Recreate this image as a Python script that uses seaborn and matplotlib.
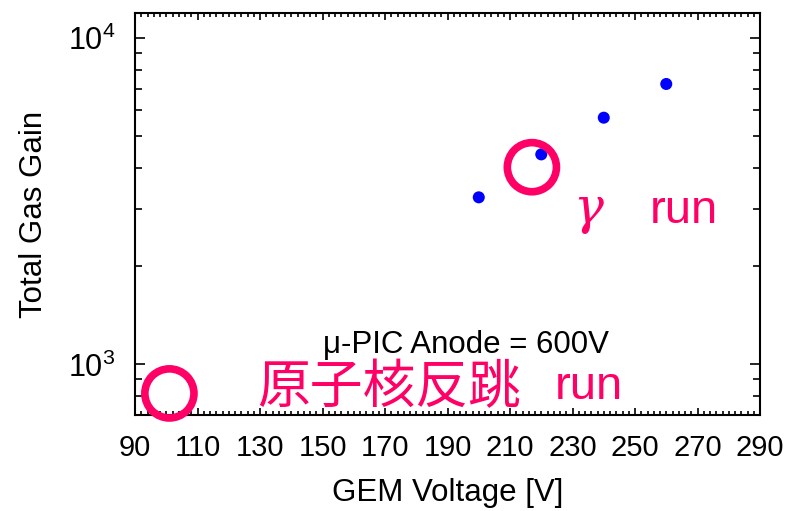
import numpy as np
import pandas as pd
import matplotlib
matplotlib.use('Agg')
import matplotlib.pyplot as plt
import matplotlib.ticker as ticker
import seaborn as sns

### DATA ###

gem_voltage = [200, 220, 240, 260]
total_gain = [3250, 4400, 5700, 7230]

# pink open circles marking the two runs
run_voltage = [217, 101]
run_gain = [4020, 815]

x_ticks = [90, 110, 130, 150, 170, 190, 210, 230, 250, 270, 290]

### STYLE ###

sns.set_style('ticks')
plt.rcParams['font.family'] = ['Liberation Sans', 'Noto Sans CJK JP', 'DejaVu Sans']
plt.rcParams['mathtext.fontset'] = 'custom'
plt.rcParams['mathtext.rm'] = 'Liberation Sans'
plt.rcParams['mathtext.it'] = 'DejaVu Serif:italic'
plt.rcParams['text.color'] = 'black'
plt.rcParams['axes.labelcolor'] = 'black'

pink = '#ff0066'

### PLOT ###

fig = plt.figure(figsize=(7.92, 5.11), dpi=100)
ax = fig.add_axes([0.1705, 0.1879, 0.7891, 0.7867])

df = pd.DataFrame({'voltage': gem_voltage, 'gain': total_gain})
sns.scatterplot(data=df, x='voltage', y='gain', ax=ax, color='#0000ff',
                s=75, edgecolor='none', zorder=3)

runs = pd.DataFrame({'voltage': run_voltage, 'gain': run_gain})
sns.scatterplot(data=runs, x='voltage', y='gain', ax=ax, marker='o', s=1250,
                facecolor='none', edgecolor=pink, linewidth=5.5, zorder=4,
                clip_on=False)

ax.set_yscale('log')
ax.set_xlim(90, 290)
ax.set_ylim(700, 11930)

ax.set_xticks(x_ticks)
ax.xaxis.set_minor_locator(ticker.MultipleLocator(2))
ax.yaxis.set_minor_formatter(ticker.NullFormatter())
ax.yaxis.set_major_locator(ticker.LogLocator(base=10, numticks=10))

ax.tick_params(which='both', direction='in', top=True, right=True,
               width=1.2, colors='black')
ax.tick_params(which='major', length=5, labelsize=21)
ax.tick_params(axis='x', which='major', pad=14)
ax.tick_params(axis='y', which='major', pad=14, length=7, labelsize=22)
ax.tick_params(which='minor', length=3)
ax.tick_params(axis='y', which='minor', length=5)

for sp in ax.spines.values():
    sp.set_linewidth(1.5)
    sp.set_color('black')

ax.set_xlabel('GEM Voltage [V]', fontsize=22.5, labelpad=11)
ax.set_ylabel('Total Gas Gain', fontsize=22.5, labelpad=14)

ax.text(0.301, 0.154, '\u03bc-PIC Anode = 600V', transform=ax.transAxes,
        fontsize=22.5, va='baseline', ha='left')
ax.text(0.195, 0.03, '原子核反跳', transform=ax.transAxes,
        fontsize=38, color=pink, va='baseline', ha='left')
ax.text(0.672, 0.04, 'run', transform=ax.transAxes,
        fontsize=34, color=pink, va='baseline', ha='left')
ax.text(0.70, 0.478, r'$\mathit{\gamma}$', transform=ax.transAxes,
        fontsize=36, color=pink, va='baseline', ha='left')
ax.text(0.824, 0.478, 'run', transform=ax.transAxes,
        fontsize=34, color=pink, va='baseline', ha='left')

plt.savefig('out.png', dpi=100)
